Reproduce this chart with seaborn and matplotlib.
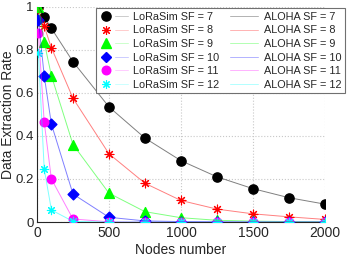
import numpy as np
import pandas as pd
import matplotlib
matplotlib.use("Agg")
import matplotlib.pyplot as plt
import seaborn as sns
from matplotlib.lines import Line2D
from matplotlib.legend_handler import HandlerTuple

# dane
nodes = [10, 50, 100, 250, 500, 750, 1000, 1250, 1500, 1750, 2000]
sf_labels = ['7', '8', '9', '10', '11', '12']
der_sf7 = [1.0, 0.955, 0.9, 0.745, 0.535, 0.39, 0.285, 0.21, 0.155, 0.113, 0.083]
der_sf8 = [0.99, 0.91, 0.81, 0.575, 0.317, 0.18, 0.10, 0.06, 0.038, 0.024, 0.012]
der_sf9 = [1.0, 0.837, 0.68, 0.36, 0.134, 0.048, 0.02, 0.008, 0.004, 0.002, 0.001]
der_sf10 = [0.94, 0.68, 0.455, 0.13, 0.022, 0.005, 0.002, 0.001, 0.0, 0.0, 0.0]
der_sf11 = [0.88, 0.465, 0.2, 0.014, 0.001, 0.0, 0.0, 0.0, 0.0, 0.0, 0.0]
der_sf12 = [0.785, 0.248, 0.056, 0.003, 0.0, 0.0, 0.0, 0.0, 0.0, 0.0, 0.0]

series = [der_sf7, der_sf8, der_sf9, der_sf10, der_sf11, der_sf12]
colors = ['#000000', '#ff0000', '#00ff00', '#0000ff', '#ff00ff', '#00ffff']
markers = ['o', (8, 2, 0), '^', 'D', 'o', (8, 2, 0)]
msizes = [44, 40, 50, 30, 38, 36]
mlw = [1.0, 0.8, 1.0, 1.0, 1.0, 0.8]

df = pd.concat([pd.DataFrame({'nodes': nodes, 'der': s, 'sf': lab})
                for s, lab in zip(series, sf_labels)])

sns.set_style('white')
plt.rcParams['font.family'] = ['Liberation Sans', 'DejaVu Sans']

fig = plt.figure(figsize=(3.49, 2.58), dpi=100)
ax = fig.add_axes([0.106, 0.1395, 0.825, 0.834])

# LoRaSim - markery
for i, lab in enumerate(sf_labels):
    sub = df[df['sf'] == lab]
    sns.scatterplot(data=sub, x='nodes', y='der', ax=ax, color=colors[i],
                    marker=markers[i], s=msizes[i], edgecolor=colors[i],
                    linewidth=mlw[i], legend=False, zorder=3 + i * 0.1)

# ALOHA - cienkie linie
for i, lab in enumerate(sf_labels):
    sub = df[df['sf'] == lab]
    sns.lineplot(data=sub, x='nodes', y='der', ax=ax, color=colors[i],
                 linewidth=0.7, alpha=0.5, legend=False, zorder=4)

ax.set_xlim(0, 2000)
ax.set_ylim(0, 1)
ax.set_xticks([0, 500, 1000, 1500, 2000])
ax.set_yticks([0, 0.2, 0.4, 0.6, 0.8, 1])
ax.set_yticklabels(['0', '0.2', '0.4', '0.6', '0.8', '1'])
ax.tick_params(direction='in', length=3, labelsize=10, colors='#262626',
               pad=3)
ax.tick_params(axis='y', labelsize=9.5, pad=2.5)
ax.grid(True, linestyle=':', color='#c8c8c8', linewidth=0.8)
for side in ['top', 'right']:
    ax.spines[side].set_visible(False)
for side in ['left', 'bottom']:
    ax.spines[side].set_color('#262626')
    ax.spines[side].set_linewidth(0.8)
ax.set_xlabel('Nodes number', fontsize=10, color='#262626', labelpad=2)
ax.set_ylabel('Data Extraction Rate', fontsize=10, color='#262626')
ax.yaxis.set_label_coords(-0.076, 0.5)

# legenda w dwóch kolumnach
h_lora, h_aloha = [], []
for i in range(6):
    mk = Line2D([], [], linestyle='none', marker=markers[i], color=colors[i],
                markeredgecolor=colors[i], markersize=np.sqrt(msizes[i]),
                markeredgewidth=mlw[i])
    ln = Line2D([], [], color=colors[i], alpha=0.2, linewidth=0.7)
    h_lora.append((mk, ln))
    h_aloha.append(Line2D([], [], color=colors[i], alpha=0.3, linewidth=0.7))
labels = ['LoRaSim SF = ' + s for s in sf_labels] + ['ALOHA SF = ' + s for s in sf_labels]
leg = ax.legend(h_lora + h_aloha, labels, ncol=2, loc='upper right',
                bbox_to_anchor=(0.9885, 0.969), bbox_transform=fig.transFigure,
                borderaxespad=0, fontsize=7.8, handlelength=2.6,
                handletextpad=0.5, columnspacing=1.0, labelspacing=0.33,
                borderpad=0.35, fancybox=False, framealpha=1,
                edgecolor='#707070',
                handler_map={tuple: HandlerTuple(ndivide=2, pad=0.2)})
leg.get_frame().set_linewidth(0.8)

fig.savefig('out.png', dpi=100)
